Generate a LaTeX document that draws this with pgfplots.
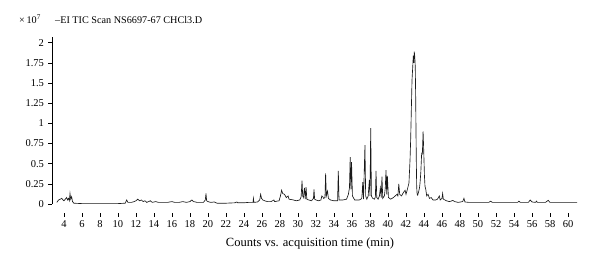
\documentclass[border=0pt]{standalone}
\usepackage{fontspec}
\setmainfont{Liberation Serif}
\usepackage{pgfplots}
\pgfplotsset{compat=1.18}
\begin{document}
\fontsize{10.2}{12}\selectfont
\begin{tikzpicture}
\begin{axis}[
  name=ax, at={(0pt,0pt)}, anchor=south west,
  scale only axis, width=526.8pt, height=166.7pt,
  xmin=2.67, xmax=61.2, ymin=0, ymax=2.067,
  axis y line*=left, axis x line*=bottom,
  x axis line style={draw=none},
  y axis line style={line width=0.6pt},
  xtick={4,6,...,60},
  ytick={0,0.25,0.5,0.75,1,1.25,1.5,1.75,2},
  yticklabels={0,0.25,0.5,0.75,1,1.25,1.5,1.75,2},
  tick align=outside, major tick length=3.5pt,
  every tick/.style={black, line width=0.6pt},
  xtick style={yshift=-9pt},
  xticklabel style={yshift=-9pt},
  yticklabel style={xshift=-1pt},
  /pgf/number format/assume math mode=true,
  tick label style={font=\fontsize{10.5}{12}\selectfont},
]
\addplot[black!90, line width=0.65pt] coordinates {
(3.2,0.02)(3.4,0.05)(3.6,0.06)(3.75,0.07)(3.9,0.05)(4.0,0.04)(4.15,0.06)(4.3,0.08)(4.4,0.05)(4.5,0.07)(4.6,0.04)(4.67,0.13)(4.75,0.06)(4.85,0.09)(4.95,0.03)(5.1,0.01)
(6,0.005)(7,0.005)(8,0.005)(9,0.005)(10,0.005)(10.8,0.01)(10.97,0.05)(11.1,0.02)(11.5,0.02)(11.8,0.03)(12.0,0.04)(12.2,0.06)(12.4,0.04)(12.6,0.05)(12.8,0.03)(13.0,0.04)(13.2,0.02)(13.6,0.04)(13.8,0.02)(14.2,0.03)(14.5,0.02)(15.0,0.02)(15.5,0.02)(16.0,0.03)(16.3,0.02)(16.8,0.02)(17.2,0.03)(17.6,0.02)(18.0,0.03)(18.2,0.05)(18.4,0.03)(18.8,0.02)
(19.5,0.02)(19.7,0.05)(19.78,0.13)(19.85,0.04)(20.0,0.03)(20.3,0.02)(20.7,0.025)(21.0,0.01)(22.0,0.01)(23.0,0.015)(23.2,0.025)(23.3,0.015)(24.0,0.015)(24.5,0.02)(25.0,0.02)(25.05,0.07)(25.1,0.02)(25.5,0.025)(25.75,0.05)(25.85,0.12)(25.95,0.07)(26.1,0.05)(26.3,0.04)(26.6,0.03)(27.0,0.03)(27.33,0.05)(27.4,0.03)(27.9,0.04)
(28.05,0.1)(28.18,0.17)(28.3,0.13)(28.5,0.12)(28.7,0.08)(28.9,0.1)(29.0,0.06)(29.5,0.05)(29.8,0.04)(30.2,0.05)(30.35,0.09)(30.45,0.29)(30.52,0.1)(30.6,0.08)(30.72,0.2)(30.8,0.06)(30.9,0.21)(30.98,0.06)(31.2,0.05)(31.5,0.04)(31.72,0.07)(31.78,0.18)(31.85,0.06)(32.0,0.05)(32.3,0.04)(32.55,0.05)(32.65,0.1)(32.75,0.09)(32.85,0.07)(33.0,0.08)(33.07,0.38)(33.15,0.1)(33.28,0.16)(33.38,0.07)(33.6,0.05)(34.0,0.04)(34.4,0.04)(34.48,0.41)(34.56,0.05)
(35.0,0.05)(35.4,0.06)(35.6,0.12)(35.72,0.2)(35.8,0.58)(35.88,0.18)(35.95,0.52)(36.05,0.1)(36.3,0.05)(36.8,0.05)(37.0,0.06)(37.1,0.08)(37.2,0.27)(37.28,0.06)(37.44,0.73)(37.52,0.1)(37.65,0.06)(37.8,0.1)(37.93,0.3)(38.0,0.1)(38.08,0.94)(38.16,0.1)(38.3,0.07)(38.5,0.06)(38.6,0.09)(38.67,0.41)(38.75,0.08)(38.9,0.06)(39.05,0.1)(39.15,0.2)(39.25,0.08)(39.33,0.34)(39.42,0.07)(39.6,0.1)(39.7,0.2)(39.78,0.42)(39.86,0.12)(39.93,0.35)(40.05,0.08)
(40.3,0.06)(40.6,0.08)(40.8,0.1)(41.0,0.12)(41.1,0.1)(41.2,0.25)(41.3,0.12)(41.5,0.1)(41.7,0.14)(41.9,0.17)(42.0,0.12)(42.15,0.18)(42.33,0.26)(42.45,0.55)(42.52,0.8)(42.6,1.2)(42.67,1.54)(42.75,1.7)(42.81,1.84)(42.86,1.75)(42.92,1.89)(42.98,1.82)(43.03,1.7)(43.08,1.3)(43.11,0.92)(43.15,0.5)(43.19,0.21)(43.24,0.12)(43.3,0.11)(43.4,0.15)(43.5,0.2)(43.56,0.26)(43.65,0.4)(43.74,0.63)(43.82,0.62)(43.9,0.9)(43.96,0.7)(44.05,0.35)(44.11,0.22)(44.2,0.18)(44.3,0.1)(44.45,0.12)(44.6,0.07)(44.8,0.08)
(45.0,0.05)(45.3,0.05)(45.5,0.06)(45.7,0.1)(45.8,0.05)(46.0,0.07)(46.07,0.13)(46.15,0.06)(46.5,0.04)(46.8,0.03)(47.0,0.035)(47.2,0.045)(47.4,0.03)(47.8,0.02)(48.3,0.03)(48.44,0.07)(48.55,0.025)(49.0,0.02)(50,0.02)(51.2,0.02)(51.4,0.035)(51.6,0.02)(52,0.02)(54.4,0.02)(54.55,0.035)(54.7,0.02)(55.6,0.02)(55.8,0.05)(56.0,0.025)(56.4,0.02)(56.5,0.035)(56.6,0.02)(57.5,0.02)(57.8,0.045)(58.0,0.02)(61.0,0.02)
};
\end{axis}
\node[anchor=base west, inner sep=0pt] at (-33pt,181pt) {×\,10\textsuperscript{7}};
\node[anchor=base west, inner sep=0pt] at (3pt,181pt) {–EI TIC Scan NS6697-67 CHCl3.D};
\node[anchor=base, inner sep=0pt, font=\fontsize{12.5}{14}\selectfont] at (258pt,-42pt) {Counts vs. acquisition time (min)};
\pgfresetboundingbox
\path[use as bounding box] (-52pt,-62pt) rectangle (548pt,204pt);
\end{tikzpicture}
\end{document}
